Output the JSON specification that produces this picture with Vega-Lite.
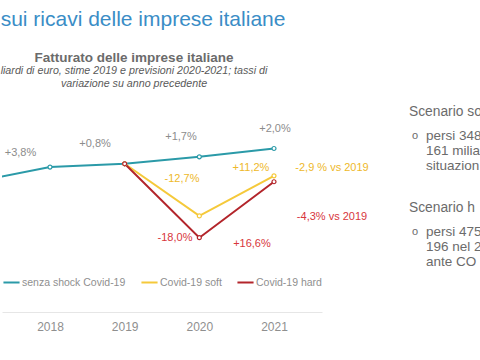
{
  "$schema": "https://vega.github.io/schema/vega-lite/v6.json",
  "padding": {"top": 8, "left": 0, "right": 0, "bottom": 0},
  "background": "white",
  "bounds": "flush",
  "spacing": 87,
  "config": {"view": {"stroke": null}, "font": "Liberation Sans"},
  "title": {"text": "sui ricavi delle imprese italiane", "anchor": "start", "frame": "bounds", "fontSize": 21, "fontWeight": "normal", "color": "#3A8DC6", "offset": 21},
  "hconcat": [
    {
      "width": 320,
      "height": 219,
      "title": {
        "text": "Fatturato delle imprese italiane",
        "subtitle": ["liardi di euro, stime 2019 e previsioni 2020-2021; tassi di", "variazione su anno precedente"],
        "anchor": "middle",
        "frame": "group",
        "dx": -28,
        "fontSize": 13.5,
        "fontWeight": "bold",
        "color": "#6b6b6b",
        "subtitleFontSize": 10.7,
        "subtitleFontStyle": "italic",
        "subtitleColor": "#5a5a5a",
        "subtitlePadding": 2,
        "subtitleLineHeight": 13,
        "offset": 4
      },
      "layer": [
        {
          "data": {"values": [
            {"anno": 2017, "scenario": "senza shock Covid-19", "valore": 2772},
            {"anno": 2018, "scenario": "senza shock Covid-19", "valore": 2877},
            {"anno": 2019, "scenario": "senza shock Covid-19", "valore": 2900},
            {"anno": 2020, "scenario": "senza shock Covid-19", "valore": 2949},
            {"anno": 2021, "scenario": "senza shock Covid-19", "valore": 3008},
            {"anno": 2019, "scenario": "Covid-19 soft", "valore": 2900},
            {"anno": 2020, "scenario": "Covid-19 soft", "valore": 2532},
            {"anno": 2021, "scenario": "Covid-19 soft", "valore": 2815},
            {"anno": 2019, "scenario": "Covid-19 hard", "valore": 2900},
            {"anno": 2020, "scenario": "Covid-19 hard", "valore": 2378},
            {"anno": 2021, "scenario": "Covid-19 hard", "valore": 2773}
          ]},
          "layer": [
            {
              "mark": {"type": "line", "strokeWidth": 2, "clip": true},
              "encoding": {
                "x": {"field": "anno", "type": "quantitative", "scale": {"domain": [2017.357, 2021.643], "nice": false, "zero": false},
                      "axis": {"values": [2018, 2019, 2020, 2021], "format": "d", "title": null, "ticks": false, "grid": false, "domainColor": "#e6e6e6", "labelColor": "#8f8f8f", "labelFontSize": 12, "labelPadding": 9}},
                "y": {"field": "valore", "type": "quantitative", "scale": {"domain": [1853, 3400], "nice": false, "zero": false}, "axis": null},
                "color": {"field": "scenario", "type": "nominal",
                          "scale": {"domain": ["senza shock Covid-19", "Covid-19 soft", "Covid-19 hard"], "range": ["#2B9AA8", "#F5C93A", "#B3252B"]},
                          "legend": {"title": null, "orient": "none", "legendX": 0, "legendY": 180, "direction": "horizontal", "symbolType": "stroke", "symbolStrokeWidth": 2, "symbolSize": 260, "labelFontSize": 10.5, "labelColor": "#8f8f8f", "labelOffset": 1, "columnPadding": 11}},
                "order": {"field": "anno"}
              }
            },
            {
              "transform": [{"filter": "datum.anno >= 2018"}],
              "mark": {"type": "point", "filled": false, "fill": "white", "size": 16, "strokeWidth": 1.2, "opacity": 1},
              "encoding": {
                "x": {"field": "anno", "type": "quantitative"},
                "y": {"field": "valore", "type": "quantitative"},
                "stroke": {"field": "scenario", "type": "nominal",
                           "scale": {"domain": ["senza shock Covid-19", "Covid-19 soft", "Covid-19 hard"], "range": ["#2B9AA8", "#F5C93A", "#B3252B"]},
                           "legend": null}
              }
            }
          ]
        },
        {
          "data": {"values": [
            {"anno": 2017.605, "valore": 2975, "testo": "+3,8%", "gruppo": "base"},
            {"anno": 2018.603, "valore": 3041, "testo": "+0,8%", "gruppo": "base"},
            {"anno": 2019.754, "valore": 3091, "testo": "+1,7%", "gruppo": "base"},
            {"anno": 2021.013, "valore": 3147, "testo": "+2,0%", "gruppo": "base"},
            {"anno": 2019.768, "valore": 2794, "testo": "-12,7%", "gruppo": "soft"},
            {"anno": 2020.692, "valore": 2872, "testo": "+11,2%", "gruppo": "soft"},
            {"anno": 2019.674, "valore": 2377, "testo": "-18,0%", "gruppo": "hard"},
            {"anno": 2020.705, "valore": 2334, "testo": "+16,6%", "gruppo": "hard"},
            {"anno": 2021.777, "valore": 2872, "testo": "-2,9 % vs 2019", "gruppo": "soft"},
            {"anno": 2021.777, "valore": 2525, "testo": "-4,3% vs 2019", "gruppo": "hard"}
          ]},
          "mark": {"type": "text", "fontSize": 11, "baseline": "middle", "align": "center"},
          "encoding": {
            "x": {"field": "anno", "type": "quantitative"},
            "y": {"field": "valore", "type": "quantitative"},
            "text": {"field": "testo"},
            "fill": {"field": "gruppo", "type": "nominal", "scale": {"domain": ["base", "soft", "hard"], "range": ["#8c8c8c", "#EEB82A", "#D8363C"]}, "legend": null}
          }
        }
      ]
    },
    {
      "width": 73,
      "height": 219,
      "data": {"values": [
        {"riga": 0, "tipo": "titolo", "testo": "Scenario soft"},
        {"riga": 1.6, "tipo": "punto", "testo": "persi 348"},
        {"riga": 2.6, "tipo": "seguito", "testo": "161 miliardi"},
        {"riga": 3.6, "tipo": "seguito", "testo": "situazione"},
        {"riga": 6.4, "tipo": "titolo", "testo": "Scenario hard"},
        {"riga": 8.0, "tipo": "punto", "testo": "persi 475"},
        {"riga": 9.0, "tipo": "seguito", "testo": "196 nel 2021"},
        {"riga": 10.0, "tipo": "seguito", "testo": "ante COVID"}
      ]},
      "encoding": {
        "x": {"datum": 0, "type": "quantitative", "scale": {"domain": [0, 1]}, "axis": null},
        "y": {"field": "riga", "type": "quantitative", "scale": {"domain": [-1.267, 13.333], "reverse": true, "nice": false, "zero": false}, "axis": null}
      },
      "layer": [
        {
          "transform": [{"filter": "datum.tipo == 'titolo'"}],
          "mark": {"type": "text", "align": "left", "baseline": "middle", "fontSize": 13.8, "color": "#6b6b6b", "limit": 73, "ellipsis": "\u200b"},
          "encoding": {"text": {"field": "testo"}}
        },
        {
          "transform": [{"filter": "datum.tipo == 'punto'"}],
          "mark": {"type": "text", "align": "left", "baseline": "middle", "fontSize": 11, "dx": 3, "color": "#6b6b6b"},
          "encoding": {"text": {"value": "o"}}
        },
        {
          "transform": [{"filter": "datum.tipo != 'titolo'"}],
          "mark": {"type": "text", "align": "left", "baseline": "middle", "fontSize": 13.5, "dx": 17, "color": "#6b6b6b", "limit": 56, "ellipsis": "\u200b"},
          "encoding": {"text": {"field": "testo"}}
        }
      ]
    }
  ]
}
